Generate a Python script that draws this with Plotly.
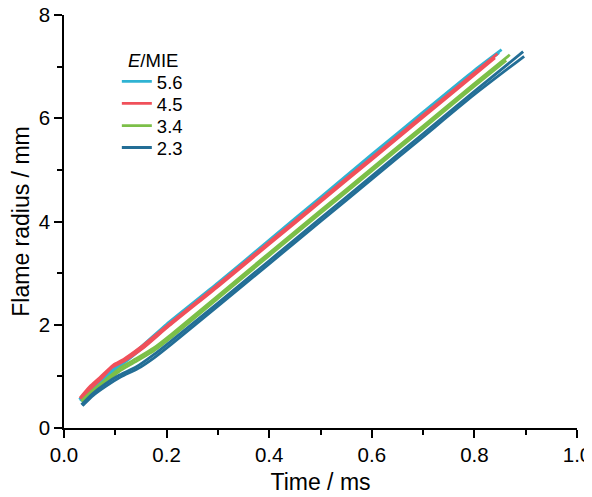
import plotly.graph_objects as go

# Ignition energy ratios (E/MIE) and colours
labels = ["5.6", "4.5", "3.4", "2.3"]
colors = ["#2fb3d3", "#f0505a", "#7cbf48", "#236e96"]

# Repeated runs for each condition: time (ms) and flame radius (mm)
t_56a = [0.030, 0.050, 0.070, 0.095, 0.120, 0.150, 0.200, 0.300, 0.400, 0.500, 0.600, 0.700, 0.800, 0.853]
r_56a = [0.55, 0.76, 0.93, 1.13, 1.33, 1.57, 2.01, 2.81, 3.64, 4.47, 5.30, 6.12, 6.93, 7.33]
t_56b = [0.032, 0.052, 0.072, 0.097, 0.122, 0.152, 0.202, 0.300, 0.400, 0.500, 0.600, 0.700, 0.800, 0.848]
r_56b = [0.52, 0.73, 0.90, 1.10, 1.30, 1.54, 1.97, 2.77, 3.60, 4.43, 5.26, 6.08, 6.89, 7.27]

t_45a = [0.031, 0.050, 0.070, 0.096, 0.116, 0.150, 0.207, 0.300, 0.400, 0.500, 0.600, 0.700, 0.800, 0.845]
r_45a = [0.58, 0.80, 0.98, 1.22, 1.33, 1.57, 2.03, 2.78, 3.60, 4.42, 5.24, 6.06, 6.88, 7.25]
t_45b = [0.033, 0.052, 0.072, 0.094, 0.118, 0.152, 0.205, 0.300, 0.400, 0.500, 0.600, 0.700, 0.800, 0.840]
r_45b = [0.55, 0.76, 0.95, 1.18, 1.30, 1.53, 1.98, 2.74, 3.56, 4.38, 5.20, 6.02, 6.84, 7.17]

t_34a = [0.034, 0.055, 0.080, 0.109, 0.142, 0.175, 0.210, 0.300, 0.400, 0.500, 0.600, 0.700, 0.800, 0.869]
r_34a = [0.52, 0.72, 0.92, 1.16, 1.35, 1.55, 1.82, 2.56, 3.39, 4.21, 5.03, 5.85, 6.67, 7.23]
t_34b = [0.036, 0.057, 0.082, 0.111, 0.144, 0.177, 0.212, 0.300, 0.400, 0.500, 0.600, 0.700, 0.800, 0.862]
r_34b = [0.49, 0.69, 0.89, 1.12, 1.31, 1.51, 1.78, 2.51, 3.34, 4.16, 4.98, 5.80, 6.62, 7.12]

t_23a = [0.034, 0.055, 0.080, 0.109, 0.142, 0.175, 0.207, 0.300, 0.400, 0.500, 0.600, 0.700, 0.800, 0.895]
r_23a = [0.45, 0.66, 0.85, 1.03, 1.19, 1.42, 1.67, 2.42, 3.24, 4.06, 4.88, 5.70, 6.52, 7.29]
t_23b = [0.036, 0.057, 0.082, 0.111, 0.144, 0.177, 0.209, 0.300, 0.400, 0.500, 0.600, 0.700, 0.800, 0.897]
r_23b = [0.43, 0.63, 0.81, 0.99, 1.15, 1.37, 1.62, 2.36, 3.18, 4.00, 4.82, 5.64, 6.46, 7.20]

runs = [
    [(t_56a, r_56a), (t_56b, r_56b)],
    [(t_45a, r_45a), (t_45b, r_45b)],
    [(t_34a, r_34a), (t_34b, r_34b)],
    [(t_23a, r_23a), (t_23b, r_23b)],
]

x_ticks = [0.0, 0.2, 0.4, 0.6, 0.8, 1.0]
y_ticks = [0, 2, 4, 6, 8]

FONT = "Liberation Sans, Arial, sans-serif"
legend_ids = ["legend", "legend2", "legend3", "legend4"]
legend_rows_y = [0.838, 0.785, 0.731, 0.678]

fig = go.Figure()
for lab, col, group, lid in zip(labels, colors, runs, legend_ids):
    for i, (t, r) in enumerate(group):
        fig.add_trace(go.Scatter(
            x=t, y=r, mode="lines", name=lab, legendgroup=lab, legend=lid,
            showlegend=(i == 0),
            line=dict(color=col, width=2.8, shape="spline", smoothing=0.6),
        ))

axis_common = dict(
    showgrid=False, zeroline=False, showline=True, linecolor="black", linewidth=1.5,
    ticks="outside", ticklen=8, tickwidth=1.5, tickcolor="black",
    tickfont=dict(family=FONT, size=20.5, color="black"),
    mirror=False, automargin=False, ticklabeloverflow="allow",
)

fig.update_xaxes(
    range=[0, 1.0], tickvals=x_ticks, tickformat=".1f",
    minor=dict(dtick=0.1, ticks="outside", ticklen=5, tickwidth=1.5, tickcolor="black"),
    title=dict(text="Time / ms", font=dict(family=FONT, size=23, color="black"), standoff=9),
    **axis_common,
)
fig.update_yaxes(
    range=[0, 8], tickvals=y_ticks,
    minor=dict(dtick=1, ticks="outside", ticklen=5, tickwidth=1.5, tickcolor="black"),
    title=dict(text="Flame radius / mm", font=dict(family=FONT, size=23, color="black"), standoff=5),
    **axis_common,
)

legend_font = dict(family=FONT, size=18.5, color="black")
layout_legends = {}
for lid, ly in zip(legend_ids, legend_rows_y):
    layout_legends[lid] = dict(
        x=0.103, y=ly, xanchor="left", yanchor="middle",
        bgcolor="rgba(0,0,0,0)", font=legend_font, itemwidth=30,
        borderwidth=0,
    )

fig.update_layout(
    width=584, height=489,
    margin=dict(l=56, r=15, t=7, b=69),
    plot_bgcolor="white", paper_bgcolor="white",
    font=dict(family=FONT, color="black"),
    annotations=[dict(
        text="<i>E</i>/MIE", xref="paper", yref="paper", x=0.226, y=0.889,
        xanchor="right", yanchor="middle", showarrow=False, font=legend_font,
    )],
    **layout_legends,
)

fig.write_html("out.html")
